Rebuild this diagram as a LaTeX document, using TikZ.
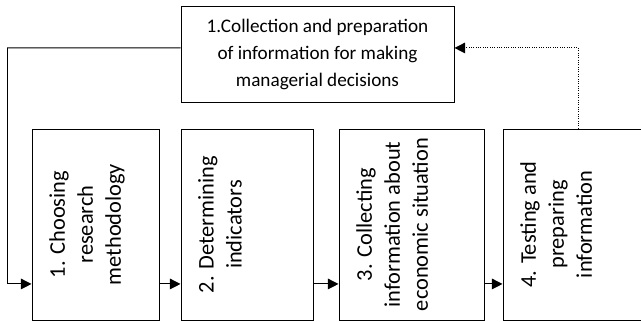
\documentclass[tikz,border=0pt]{standalone}
\usepackage{fontspec}
\setmainfont{Carlito}
\usepackage{graphicx}
\usepackage{tikz}
\usetikzlibrary{arrows.meta}

\newcommand{\sidetext}[2]{\rotatebox{90}{\parbox[c][#1][t]{143.25pt}{\centering\fontsize{16.8}{21}\selectfont\vspace{13pt}#2}}}

\begin{document}
\begin{tikzpicture}[x=0.75pt, y=-0.75pt, line width=0.75pt,
  stage/.style={draw, inner sep=0pt},
  flow/.style={-{Triangle[length=8pt, width=8pt]}},
  back/.style={flow, densely dotted}]
  \clip (0,0) rectangle (641,321);
  \node[stage, minimum width=204.75pt, minimum height=71.25pt, align=center,
        font=\fontsize{14.4}{20.6}\selectfont] (info) at (317.5,54.5)
        {1.Collection and preparation\\ of information for making\\ managerial decisions};
  \node[stage] (s1) at (95.5,224.5) {\sidetext{95.25pt}{1. Choosing\\ research\\ methodology}};
  \node[stage] (s2) at (247,224.5) {\sidetext{99pt}{2. Determining\\ indicators}};
  \node[stage] (s3) at (411.5,224.5) {\sidetext{108.75pt}{3. Collecting\\ information about\\ economic situation}};
  \node[stage] (s4) at (578,224.5) {\sidetext{112.5pt}{4. Testing and\\ preparing\\ information}};
  \coordinate (turn) at (7,48);
  \draw ([yshift=4.9pt]info.west) -- (turn);
  \draw[flow] (turn) |- ([yshift=-44.6pt]s1.west);
  \draw[flow] ([yshift=-44.6pt]s1.east) -- ([yshift=-44.6pt]s2.west);
  \draw[flow] ([yshift=-44.6pt]s2.east) -- ([yshift=-44.6pt]s3.west);
  \draw[flow] ([yshift=-44.6pt]s3.east) -- ([yshift=-44.6pt]s4.west);
  \draw[back] (s4.north) |- ([yshift=4.9pt]info.east);
\end{tikzpicture}
\end{document}
